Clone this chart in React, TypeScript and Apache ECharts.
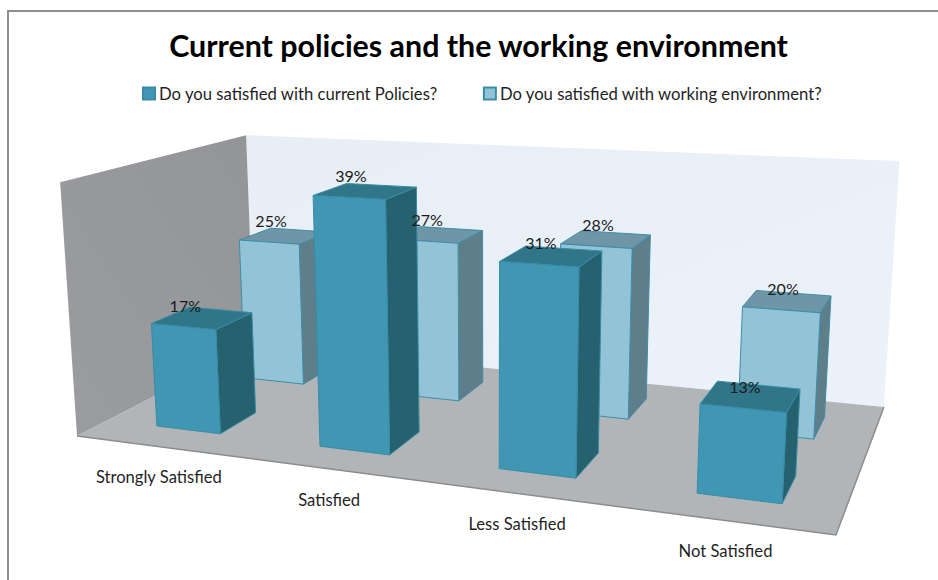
import React, { useEffect, useRef } from "react";
import * as echarts from "echarts";

const titleText = "Current policies and the working environment";
const categories = ["Strongly Satisfied", "Satisfied", "Less Satisfied", "Not Satisfied"];
const policiesName = "Do you satisfied with current Policies?";
const environmentName = "Do you satisfied with working environment?";
const policiesValues = [17, 39, 31, 13];
const environmentValues = [25, 27, 28, 20];
const axisMax = 40.5;

const FONT = "Lato, 'Noto Sans', sans-serif";

// Perspective camera: floor homography plus a vertical column.
const H = { a: 605.9, b: 232.5, c: 77, d: 1.04, e: -15.5, f: 436, g: -0.1831, h: 0.2187 };
const V = { x: -19.2, y: -261, w: -0.0392 };
function project(u: number, v: number, z: number): [number, number] {
  const w = H.g * u + H.h * v + 1 + V.w * z;
  return [
    (H.a * u + H.b * v + H.c + V.x * z) / w,
    (H.d * u + H.e * v + H.f + V.y * z) / w,
  ];
}

const BAR_FRACTION = 0.4; // of a category band
const DEPTH_FRACTION = 0.4; // of a series row
const BAR_SHIFT = 0.004; // bars sit slightly right of the band centre

type Palette = { front: string; side: string; top: string; stroke: string };
const darkPalette: Palette = { front: "#3F97B3", side: "#26616F", top: "#317588", stroke: "#3A8CA6" };
const lightPalette: Palette = { front: "#93C3D6", side: "#5E7E8A", top: "#6E96A6", stroke: "#3E8DA8" };

function unitFromApi(params: any, api: any, i: number, val: number) {
  const cs = params.coordSys;
  const p = api.coord([i, val]);
  const band = api.size([1, 0])[0] / cs.width;
  return {
    uc: (p[0] - cs.x) / cs.width,
    z: (cs.y + cs.height - p[1]) / cs.height,
    band,
  };
}

function barRenderer(row: number, pal: Palette) {
  const rows = 2;
  const vc = (row + 0.5) / rows;
  const dv = DEPTH_FRACTION / rows / 2;
  return (params: any, api: any) => {
    const i = api.value(0);
    const { uc, z, band } = unitFromApi(params, api, i, api.value(1));
    const du = (band * BAR_FRACTION) / 2;
    const u0 = uc + BAR_SHIFT - du, u1 = uc + BAR_SHIFT + du, v0 = vc - dv, v1 = vc + dv;
    const poly = (pts: [number, number][], fill: string) => ({
      type: "polygon",
      shape: { points: pts },
      style: { fill, stroke: pal.stroke, lineWidth: 1, lineJoin: "round" },
    });
    return {
      type: "group",
      children: [
        poly([project(u1, v0, 0), project(u1, v1, 0), project(u1, v1, z), project(u1, v0, z)], pal.side),
        poly([project(u0, v0, z), project(u1, v0, z), project(u1, v1, z), project(u0, v1, z)], pal.top),
        poly([project(u0, v0, 0), project(u1, v0, 0), project(u1, v0, z), project(u0, v0, z)], pal.front),
      ],
    };
  };
}

function labelRenderer(row: number) {
  const vc = (row + 0.5) / 2;
  const dv = DEPTH_FRACTION / 2 / 2;
  return (params: any, api: any) => {
    const i = api.value(0);
    const val = api.value(1);
    const { uc, z } = unitFromApi(params, api, i, val);
    const [x, y] = project(uc + BAR_SHIFT, vc - dv, z);
    return {
      type: "text",
      x: x + 2,
      y: y - 21.5,
      style: {
        text: `${val}%`,
        fill: "#1a1a1a",
        font: `16px ${FONT}`,
        align: "center",
        verticalAlign: "middle",
      },
    };
  };
}

function categoryRenderer(params: any, api: any) {
  const i = api.value(0);
  const { uc } = unitFromApi(params, api, i, 0);
  const [x, y] = project(uc, 0, 0);
  return {
    type: "text",
    x: x + 2.5,
    y: y + 31,
    style: {
      text: categories[i],
      fill: "#1f1f1f",
      font: `16.6px ${FONT}`,
      align: "center",
      verticalAlign: "middle",
    },
  };
}

function frameRenderer() {
  const poly = (pts: [number, number][], fill: any, extra: any = {}) => ({
    type: "polygon",
    shape: { points: pts },
    style: { fill, ...extra },
  });
  const leftFill = new echarts.graphic.LinearGradient(1, 0, 0, 1, [
    { offset: 0, color: "#939598" },
    { offset: 1, color: "#9A9C9F" },
  ]);
  const backFill = new echarts.graphic.LinearGradient(0, 0, 1, 1, [
    { offset: 0, color: "#E7EEF5" },
    { offset: 1, color: "#ECF2F9" },
  ]);
  return {
    type: "group",
    children: [
      poly([project(0, 1, 0), project(1, 1, 0), project(1, 1, 1), project(0, 1, 1)], backFill),
      poly([project(0, 0, 0), project(0, 1, 0), project(0, 1, 1), project(0, 0, 1)], leftFill),
      poly([project(0, 0, 0), project(1, 0, 0), project(1, 1, 0), project(0, 1, 0)], "#B1B5B8"),
      {
        type: "polyline",
        shape: { points: [project(0, 0, 0), project(1, 0, 0), project(1, 1, 0)] },
        style: { fill: "none", stroke: "#8C8C8C", lineWidth: 1.5 },
      },
    ],
  };
}

export default function App() {
  const ref = useRef<HTMLDivElement>(null);
  useEffect(() => {
    document.body.style.margin = "0";
    const chart = echarts.init(ref.current!, undefined, { renderer: "svg" });
    const toData = (vals: number[]) => vals.map((v, i) => [i, v]);
    chart.setOption({
      animation: false,
      backgroundColor: "#ffffff",
      title: {
        text: titleText,
        left: 473.5,
        top: 25,
        textAlign: "center",
        textStyle: { fontFamily: FONT, fontSize: 30.4, fontWeight: "bold", color: "#000000" },
      },
      legend: {
        data: [policiesName, environmentName],
        left: 137,
        top: 80,
        itemWidth: 12,
        itemHeight: 12,
        itemGap: 45,
        icon: "rect",
        selectedMode: false,
        textStyle: { fontFamily: FONT, fontSize: 16.7, color: "#1f1f1f", padding: [0, 0, 0, -1] },
      },
      grid: { left: 100, top: 100, width: 400, height: 400, show: false },
      xAxis: { type: "category", data: categories, show: false },
      yAxis: { type: "value", min: 0, max: axisMax, show: false },
      tooltip: { show: false },
      graphic: [
        {
          type: "polyline",
          z: 100,
          shape: { points: [[8, 580], [8, 11], [938, 11]] },
          style: { fill: "none", stroke: "#8E8E8E", lineWidth: 2 },
        },
      ],
      series: [
        { type: "custom", name: "frame", z: 1, silent: true, data: [[0, 0]], renderItem: frameRenderer, clip: false },
        {
          type: "custom",
          name: environmentName,
          z: 2,
          silent: true,
          itemStyle: { color: lightPalette.front, borderColor: lightPalette.stroke, borderWidth: 1 },
          data: toData(environmentValues),
          renderItem: barRenderer(1, lightPalette),
          clip: false,
        },
        {
          type: "custom",
          name: policiesName,
          z: 3,
          silent: true,
          itemStyle: { color: darkPalette.front, borderColor: darkPalette.stroke, borderWidth: 1 },
          data: toData(policiesValues),
          renderItem: barRenderer(0, darkPalette),
          clip: false,
        },
        { type: "custom", name: "environment labels", z: 4, silent: true, data: toData(environmentValues), renderItem: labelRenderer(1), clip: false },
        { type: "custom", name: "policies labels", z: 4, silent: true, data: toData(policiesValues), renderItem: labelRenderer(0), clip: false },
        { type: "custom", name: "categories", z: 4, silent: true, data: categories.map((_, i) => [i, 0]), renderItem: categoryRenderer, clip: false },
      ],
    });
    return () => chart.dispose();
  }, []);
  return <div ref={ref} style={{ width: 938, height: 580, position: "absolute", left: 0, top: 0 }} />;
}
